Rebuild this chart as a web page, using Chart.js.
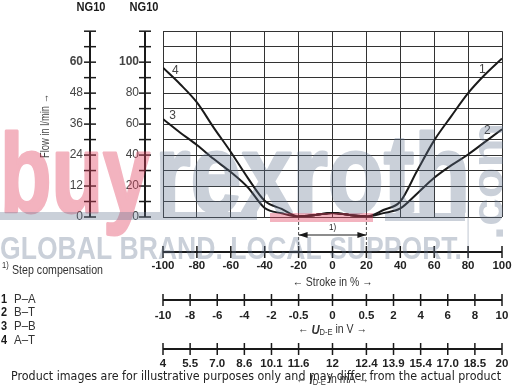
<!DOCTYPE html>
<html>
<head>
<meta charset="utf-8">
<script src="https://cdn.jsdelivr.net/npm/chart.js@4.4.1/dist/chart.umd.min.js"></script>
<style>
  html, body { margin: 0; padding: 0; background: #fff; }
  #wrap { width: 512px; height: 388px; position: relative; }
</style>
</head>
<body>
<div id="wrap"><canvas id="flowChart"></canvas></div>
<script>
// Flow curves, read on the 0..120 flow scale against stroke in %
const strokeLeft = [-100, -90, -80, -70, -60, -50, -40, -30, -20, -10, 0, 10, 20];
const strokeRight = [-20, -10, 0, 10, 20, 30, 40, 50, 60, 70, 80, 90, 100];
const flowPA = [0.3, 1.3, 2.6, 1.3, 0.3, 4.5, 10, 30, 49.5, 65, 80, 92, 102.4];
const flowBT = [0.3, 1.3, 2.6, 1.3, 0.3, 2.5, 5.5, 15.2, 25.3, 33.3, 40.4, 48.5, 56.6];
const flowPB = [63.3, 54.6, 46.5, 37.4, 29, 19.2, 5.8, 2.4, 0.3, 1.3, 2.6, 1.3, 0.3];
const flowAT = [96.4, 85.9, 74, 57.6, 42, 25.3, 10.5, 5.2, 0.3, 1.3, 2.6, 1.3, 0.3];

// axis ticks
const strokeTicks = [-100, -80, -60, -40, -20, 0, 20, 40, 60, 80, 100];
const scalePos = [-100, -84, -68, -52, -36, -20, 0, 20, 36, 52, 68, 84, 100];
const voltLabels = ['-10', '-8', '-6', '-4', '-2', '-0.5', '0', '0.5', '2', '4', '6', '8', '10'];
const currentLabels = ['4', '5.5', '7.0', '8.6', '10.1', '11.6', '12', '12.4', '13.9', '15.4', '17.0', '18.5', '20'];

// legend
const legendNums = ['1', '2', '3', '4'];
const legendNames = ['P\u2013A', 'B\u2013T', 'P\u2013B', 'A\u2013T'];
const curveTags = [
    { text: '1', x: 88.4, y: 95 },
    { text: '2', x: 91.4, y: 55.6 },
    { text: '3', x: -94.4, y: 65.7 },
    { text: '4', x: -92.7, y: 94.4 }
];

const SANS = "'Liberation Sans', Arial, sans-serif";
const ink = '#1a1a1a';
const NARROW_K = 0.84;   // condensed look for plugin texts

function toPoints(xs, ys) {
    return xs.map((x, i) => ({ x: x, y: ys[i] }));
}

function vAxis(ctx, x, scale, values) {
    ctx.lineWidth = 2;
    ctx.beginPath();
    ctx.moveTo(x, scale.getPixelForValue(scale.max));
    ctx.lineTo(x, scale.getPixelForValue(scale.min));
    ctx.stroke();
    ctx.lineWidth = 1.5;
    values.forEach(v => {
        const py = scale.getPixelForValue(v);
        ctx.beginPath();
        ctx.moveTo(x - 6, py);
        ctx.lineTo(x + 6, py);
        ctx.stroke();
    });
}

function hAxis(ctx, y, scale, values) {
    ctx.lineWidth = 2;
    ctx.beginPath();
    ctx.moveTo(scale.getPixelForValue(scale.min), y);
    ctx.lineTo(scale.getPixelForValue(scale.max), y);
    ctx.stroke();
    ctx.lineWidth = 1.5;
    values.forEach(v => {
        const px = scale.getPixelForValue(v);
        ctx.beginPath();
        ctx.moveTo(px, y - 6);
        ctx.lineTo(px, y + 6);
        ctx.stroke();
    });
}

// text squeezed horizontally by k (or fitted to a width)
function squeeze(ctx, text, x, y, font, opts) {
    opts = opts || {};
    ctx.font = font;
    const w = ctx.measureText(text).width;
    const k = opts.width ? opts.width / w : (opts.k || NARROW_K);
    const tw = w * k;
    let x0 = x;
    if (opts.align === 'center') x0 = x - tw / 2;
    if (opts.align === 'right') x0 = x - tw;
    ctx.save();
    ctx.translate(x0, y);
    ctx.scale(k, 1);
    ctx.textAlign = 'left';
    ctx.fillText(text, 0, 0);
    if (opts.bolden) {
        ctx.lineWidth = opts.bolden;
        ctx.lineJoin = 'round';
        ctx.strokeText(text, 0, 0);
    }
    ctx.restore();
}

function subTitle(ctx, cx, cy, sym, sub, tail) {
    const f1 = '12.5px ' + SANS;
    const f2 = 'italic bold 13.5px ' + SANS;
    const f3 = '9px ' + SANS;
    ctx.font = f1; const w1 = ctx.measureText('\u2190 ').width;
    ctx.font = f2; const w2 = ctx.measureText(sym).width;
    ctx.font = f3; const w3 = ctx.measureText(sub).width;
    ctx.font = f1; const w4 = ctx.measureText(tail).width;
    const total = w1 + w2 + w3 + w4;
    ctx.save();
    ctx.translate(cx - total * NARROW_K / 2, cy);
    ctx.scale(NARROW_K, 1);
    ctx.textAlign = 'left';
    ctx.textBaseline = 'middle';
    let x = 0;
    ctx.font = f1; ctx.fillText('\u2190 ', x, 0); x += w1;
    ctx.font = f2; ctx.fillText(sym, x, 0); x += w2;
    ctx.font = f3; ctx.fillText(sub, x, 3); x += w3;
    ctx.font = f1; ctx.fillText(tail, x, 0);
    ctx.restore();
}

// watermark drawn solid on its own layer, then laid over the chart
function watermarkLayer(w, h, color, paint) {
    const off = document.createElement('canvas');
    off.width = w;
    off.height = h;
    const c = off.getContext('2d');
    c.fillStyle = color;
    c.strokeStyle = color;
    c.textBaseline = 'alphabetic';
    paint(c);
    return off;
}

const extras = {
    id: 'extras',
    beforeDatasetsDraw(chart) {
        const { ctx, chartArea: ca, scales } = chart;
        ctx.save();
        ctx.strokeStyle = ink;
        ctx.fillStyle = ink;

        // detached flow axes
        vAxis(ctx, ca.left - 73, scales.yL, scales.yL.ticks.map(t => t.value));
        vAxis(ctx, ca.left - 18, scales.y, scales.y.ticks.map(t => t.value));

        // bottom axes
        hAxis(ctx, scales.x.top + 35, scales.x, strokeTicks);
        hAxis(ctx, scales.xu.top, scales.xu, scalePos);
        hAxis(ctx, scales.xi.top, scales.xi, scalePos);

        // step compensation bracket
        const b1 = scales.x.getPixelForValue(-20);
        const b2 = scales.x.getPixelForValue(20);
        const by = ca.bottom + 18;
        ctx.lineWidth = 0.8;
        ctx.setLineDash([3, 2]);
        [b1, b2].forEach(bx => {
            ctx.beginPath();
            ctx.moveTo(bx, ca.bottom);
            ctx.lineTo(bx, ca.bottom + 28);
            ctx.stroke();
        });
        ctx.setLineDash([]);
        ctx.lineWidth = 1;
        ctx.beginPath();
        ctx.moveTo(b1, by);
        ctx.lineTo(b2, by);
        ctx.stroke();
        ctx.beginPath();
        ctx.moveTo(b1, by); ctx.lineTo(b1 + 9, by - 3); ctx.lineTo(b1 + 9, by + 3); ctx.closePath();
        ctx.moveTo(b2, by); ctx.lineTo(b2 - 9, by - 3); ctx.lineTo(b2 - 9, by + 3); ctx.closePath();
        ctx.fill();
        ctx.textBaseline = 'middle';
        squeeze(ctx, '1)', (b1 + b2) / 2, ca.bottom + 10, '9.5px ' + SANS, { align: 'center' });
        ctx.restore();
    },
    afterDraw(chart) {
        const { ctx, chartArea: ca, scales } = chart;
        const midX = (ca.left + ca.right) / 2;
        ctx.save();
        ctx.textBaseline = 'middle';

        // curve numbers
        ctx.fillStyle = '#444';
        ctx.font = '12px ' + SANS;
        ctx.textAlign = 'center';
        curveTags.forEach(t => {
            ctx.fillText(t.text, scales.x.getPixelForValue(t.x), scales.y.getPixelForValue(t.y));
        });

        // NG10 headers
        ctx.fillStyle = ink;
        squeeze(ctx, 'NG10', ca.left - 72, 8, 'bold 12.5px ' + SANS, { align: 'center', width: 29 });
        squeeze(ctx, 'NG10', ca.left - 19, 8, 'bold 12.5px ' + SANS, { align: 'center', width: 29 });

        // flow axis title (rotated)
        ctx.fillStyle = '#444';
        ctx.save();
        ctx.translate(45, 126);
        ctx.rotate(-Math.PI / 2);
        squeeze(ctx, 'Flow in l/min \u2192', 0, 0, '13px ' + SANS, { align: 'center', width: 64 });
        ctx.restore();

        // bottom axis titles
        ctx.fillStyle = '#333';
        squeeze(ctx, '\u2190 Stroke in % \u2192', midX, scales.x.top + 65, '13px ' + SANS, { align: 'center', width: 80 });
        subTitle(ctx, midX, scales.xu.top + 30, 'U', 'D-E', ' in V \u2192');
        subTitle(ctx, midX, scales.xi.top + 31, 'I', 'D-E', ' in mA \u2192');

        // footnote and legend
        squeeze(ctx, '1)', 2, 266, '9px ' + SANS);
        squeeze(ctx, 'Step compensation', 12, 270, '13px ' + SANS, { width: 91 });
        legendNums.forEach((n, i) => {
            const ly = 299 + i * 13.8;
            ctx.fillStyle = ink;
            squeeze(ctx, n, 1, ly, 'bold 13px ' + SANS);
            ctx.fillStyle = '#333';
            squeeze(ctx, legendNames[i], 14, ly, '13px ' + SANS, { k: 0.88 });
        });

        // watermark
        const pink = watermarkLayer(512, 388, 'rgb(225, 65, 95)', c => {
            squeeze(c, 'buy', 0, 212, 'bold 112px ' + SANS, { width: 150, bolden: 3 });
            c.fillRect(270, 213, 103, 9);
        });
        const grey = watermarkLayer(512, 388, 'rgb(100, 118, 145)', c => {
            squeeze(c, 'rexroth', 155, 212, 'bold 112px ' + SANS, { width: 315, bolden: 3 });
            c.fillRect(0, 212, 257, 8);
            c.fillRect(385, 213, 80, 8);
            squeeze(c, 'GLOBAL BRAND. LOCAL SUPPORT.', 0, 259, 'bold 31px ' + SANS, { width: 462 });
            c.save();
            c.translate(503, 240);
            c.rotate(-Math.PI / 2);
            squeeze(c, '.com', 0, 0, 'bold 44px ' + SANS, { width: 117 });
            c.restore();
            c.fillRect(467.5, 200, 1.2, 60);
        });
        ctx.globalAlpha = 0.4;
        ctx.drawImage(pink, 0, 0);
        ctx.globalAlpha = 0.34;
        ctx.drawImage(grey, 0, 0);
        ctx.globalAlpha = 1;

        // disclaimer
        ctx.fillStyle = '#222';
        ctx.textBaseline = 'alphabetic';
        squeeze(ctx, 'Product images are for illustrative purposes only and may differ from the actual product',
            11, 380, '12.5px DejaVu Sans', { width: 490 });
        ctx.restore();
    }
};

const lineStyle = {
    borderColor: ink,
    borderWidth: 2,
    pointRadius: 0,
    fill: false,
    cubicInterpolationMode: 'monotone'
};

const tickFont = { family: SANS, size: 11.5, weight: 'bold' };

new Chart(document.getElementById('flowChart').getContext('2d'), {
    type: 'line',
    data: {
        datasets: [
            Object.assign({ label: 'P\u2013A', data: toPoints(strokeRight, flowPA) }, lineStyle),
            Object.assign({ label: 'B\u2013T', data: toPoints(strokeRight, flowBT) }, lineStyle),
            Object.assign({ label: 'P\u2013B', data: toPoints(strokeLeft, flowPB) }, lineStyle),
            Object.assign({ label: 'A\u2013T', data: toPoints(strokeLeft, flowAT) }, lineStyle)
        ]
    },
    options: {
        responsive: true,
        maintainAspectRatio: false,
        animation: false,
        layout: { padding: { top: 19, right: 10, left: 0, bottom: 0 } },
        plugins: {
            legend: { display: false },
            tooltip: { enabled: false }
        },
        scales: {
            x: {
                type: 'linear',
                position: 'bottom',
                weight: 0,
                min: -100,
                max: 100,
                afterBuildTicks: s => { s.ticks = strokeTicks.map(v => ({ value: v })); },
                grid: { color: '#333', lineWidth: 1, drawTicks: false },
                border: { display: false },
                ticks: {
                    autoSkip: false,
                    maxRotation: 0,
                    padding: 42,
                    color: '#222',
                    font: tickFont,
                    callback: v => String(v)
                },
                afterFit: s => { s.height = 83; s.paddingLeft = 0; s.paddingRight = 0; }
            },
            xu: {
                type: 'linear',
                position: 'bottom',
                weight: 1,
                min: -100,
                max: 100,
                afterBuildTicks: s => { s.ticks = scalePos.map(v => ({ value: v })); },
                grid: { display: false, drawTicks: false },
                border: { display: false },
                ticks: {
                    autoSkip: false,
                    maxRotation: 0,
                    padding: 9,
                    color: '#222',
                    font: tickFont,
                    callback: (v, i) => voltLabels[i]
                },
                afterFit: s => { s.height = 49; s.paddingLeft = 0; s.paddingRight = 0; }
            },
            xi: {
                type: 'linear',
                position: 'bottom',
                weight: 2,
                min: -100,
                max: 100,
                afterBuildTicks: s => { s.ticks = scalePos.map(v => ({ value: v })); },
                grid: { display: false, drawTicks: false },
                border: { display: false },
                ticks: {
                    autoSkip: false,
                    maxRotation: 0,
                    padding: 8,
                    color: '#222',
                    font: tickFont,
                    callback: (v, i) => currentLabels[i]
                },
                afterFit: s => { s.height = 39; s.paddingLeft = 0; s.paddingRight = 0; }
            },
            y: {
                type: 'linear',
                position: 'left',
                weight: 0,
                min: 0,
                max: 120,
                grid: { color: '#333', lineWidth: 1, drawTicks: false },
                border: { display: false },
                ticks: {
                    stepSize: 10,
                    autoSkip: false,
                    padding: 24,
                    color: '#444',
                    font: c => ({ family: SANS, size: 12, weight: c.tick && c.tick.value === 100 ? 'bold' : 'normal' }),
                    callback: v => (v % 20 === 0 && v <= 100) ? String(v) : ''
                },
                afterFit: s => { s.width = 60; }
            },
            yL: {
                type: 'linear',
                position: 'left',
                weight: 1,
                min: 0,
                max: 72,
                grid: { display: false, drawTicks: false },
                border: { display: false },
                ticks: {
                    stepSize: 6,
                    autoSkip: false,
                    padding: 20,
                    color: '#444',
                    font: c => ({ family: SANS, size: 12, weight: c.tick && c.tick.value === 60 ? 'bold' : 'normal' }),
                    callback: v => (v % 12 === 0 && v <= 60) ? String(v) : ''
                },
                afterFit: s => { s.width = 103; }
            }
        }
    },
    plugins: [extras]
});
</script>
</body>
</html>
